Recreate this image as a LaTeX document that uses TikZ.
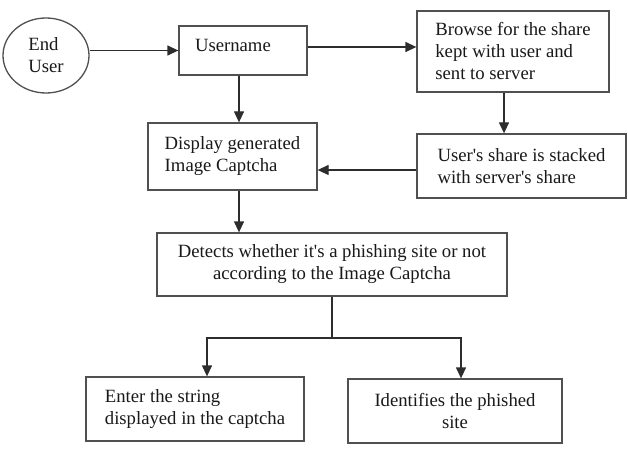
\documentclass[tikz,border=0pt]{standalone}
\usepackage{fontspec}
\newfontfamily\diagfont{Liberation Serif}
\usetikzlibrary{shapes.geometric,arrows.meta}
\definecolor{linec}{RGB}{45,45,45}
\definecolor{boxc}{RGB}{80,80,80}
\definecolor{txtc}{RGB}{25,25,25}
\begin{document}
\begin{tikzpicture}[x=1pt,y=-1pt,
  every node/.style={font=\diagfont\fontsize{18.7}{22}\selectfont, text=txtc},
  box/.style={draw=boxc, line width=1.3pt, rectangle, align=left, inner sep=0pt},
  boxc/.style={box, align=center},
  arr/.style={draw=linec, line width=1.3pt, -{Triangle[length=11pt,width=10pt]}},
  ln/.style={draw=linec, line width=1.3pt}]
\useasboundingbox (0,0) rectangle (628,454);
\fill[white] (0,0) rectangle (628,454);

\node[draw=boxc, line width=1.3pt, ellipse, minimum width=86pt, minimum height=75pt, inner sep=0pt, align=left] (user) at (46,55.5) {End\\User};
\node[box, minimum width=128pt, minimum height=49pt, text width=96pt, inner xsep=16pt, text depth=10pt] (uname) at (243,50.5) {Username};
\node[box, minimum width=192pt, minimum height=81pt] (browse) at (513,51.5) {Browse for the share\\kept with user and\\sent to server};
\node[box, minimum width=169pt, minimum height=67pt] (display) at (232.5,156.5) {Display generated\\Image Captcha};
\node[box, minimum width=209pt, minimum height=64pt] (share) at (521.5,166) {User's share is stacked\\with server's share};
\node[boxc, minimum width=350pt, minimum height=63pt] (detect) at (332,264.5) {Detects whether it's a phishing site or not\\according to the Image Captcha};
\node[box, minimum width=218pt, minimum height=64pt] (enter) at (195,409) {Enter the string\\displayed in the captcha};
\node[boxc, minimum width=214pt, minimum height=64pt] (ident) at (455,411) {Identifies the phished\\site};

\coordinate (split) at (332,338);

\draw[arr] (user.east |- uname.west) -- (uname.west);
\draw[arr] ([yshift=3.5pt]uname.east) -- ([yshift=3.5pt]uname.east -| browse.west);
\draw[arr] ([xshift=-4pt]uname.south) -- ([xshift=-4pt]uname.south |- display.north);
\draw[arr] ([xshift=-9pt]browse.south) -- ([xshift=-9pt]browse.south |- share.north);
\draw[arr] ([yshift=-4pt]share.west) -- ([yshift=-4pt]share.west -| display.east);
\draw[arr] ([xshift=6.5pt]display.south) -- ([xshift=6.5pt]display.south |- detect.north);
\draw[ln] (detect.south) -- (split);
\draw[arr] (split) -| ([xshift=12pt]enter.north);
\draw[arr] (split) -| ([xshift=6pt]ident.north);
\end{tikzpicture}
\end{document}
